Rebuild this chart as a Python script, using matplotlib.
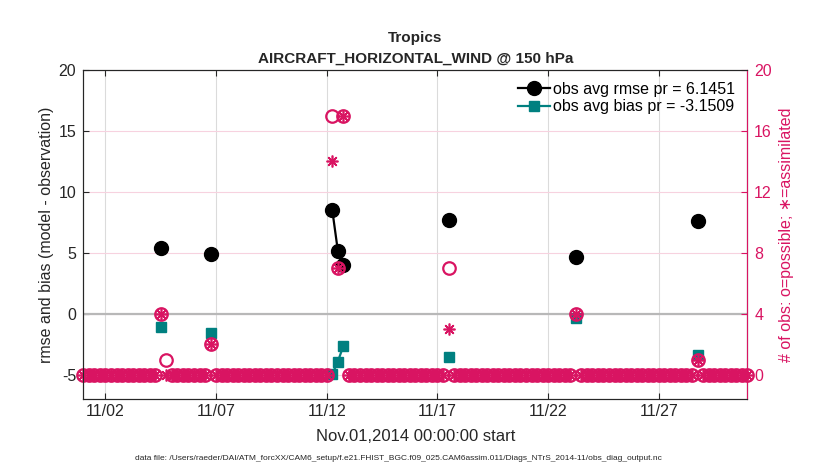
import numpy as np
import matplotlib
matplotlib.use("Agg")
import matplotlib.pyplot as plt

plt.rcParams['font.family'] = ['Liberation Sans', 'DejaVu Sans']
plt.rcParams['axes.unicode_minus'] = False

# 6-hourly bins (days since Nov.01,2014 00Z) that had any observations
obs_days = [3.5, 3.75, 5.75, 11.25, 11.5, 11.75, 16.5, 22.25, 27.75]
n_possible = [4, 1, 2, 17, 7, 17, 7, 4, 1]
n_assim = [4, 0, 2, 14, 7, 17, 3, 4, 1]
rmse = [5.43, np.nan, 4.94, 8.5, 5.19, 4.04, 7.74, 4.66, 7.62]
bias = [-1.05, np.nan, -1.58, -4.93, -3.91, -2.62, -3.5, -0.3, -3.36]

rmse_label = "obs avg rmse pr = 6.1451"
bias_label = "obs avg bias pr = -3.1509"

tick_days = [1, 6, 11, 16, 21, 26]
tick_labels = ['11/02', '11/07', '11/12', '11/17', '11/22', '11/27']

pink = '#d91462'
teal = '#008080'
dark = '#262626'

# every 6-hourly bin over the month; bins not listed above had no obs
days = np.arange(0, 30.001, 0.25)
idx = np.searchsorted(days, obs_days)
poss_all = np.zeros(len(days))
assim_all = np.zeros(len(days))
rmse_all = np.full(len(days), np.nan)
bias_all = np.full(len(days), np.nan)
poss_all[idx] = n_possible
assim_all[idx] = n_assim
rmse_all[idx] = rmse
bias_all[idx] = bias

fig = plt.figure(figsize=(8.3, 4.7), dpi=100)
ax1 = fig.add_axes([83.3/830, 70.7/470, 664/830, 329.3/470])
ax2 = ax1.twinx()

ax1.axhline(0, color='0.72', lw=1.6, zorder=1)
l1, = ax1.plot(days, rmse_all, 'o-', color='k', ms=10, lw=1.6, zorder=3)
l2, = ax1.plot(days, bias_all, 's-', color=teal, ms=7.5, lw=1.6, zorder=3)

ax2.plot(days, poss_all, 'o', mfc='none', mec=pink, ms=9, mew=1.6, clip_on=False)
ax2.plot(days, assim_all, marker=(8, 2, 0), ls='none', color=pink, ms=8.5, mew=1.2, clip_on=False)

ax1.set_xlim(0, 30)
ax1.set_ylim(-7, 20)
ax1.set_yticks(np.arange(-5, 21, 5))
ax2.set_ylim(-1.6, 20)
ax2.set_yticks(np.arange(0, 21, 4))
ax1.set_xticks(tick_days)
ax1.set_xticklabels(tick_labels)

ax1.grid(axis='x', color='0.86', lw=0.8)
ax1.grid(axis='y', color='#f7d2df', lw=0.8)
ax1.set_axisbelow(True)

ax1.tick_params(direction='in', top=True, right=False, length=4, labelsize=11.5,
                colors=dark, width=0.8)
ax1.tick_params(axis='y', pad=5)
ax2.tick_params(direction='in', length=4, labelsize=11.5, colors=pink, width=0.8, pad=5)
for s in ['left', 'top', 'bottom']:
    ax1.spines[s].set_color(dark)
    ax2.spines[s].set_color(dark)
    ax2.spines[s].set_linewidth(0.8)
ax2.spines['right'].set_color(pink)
ax2.spines['right'].set_linewidth(0.8)

ax1.set_ylabel('rmse and bias (model - observation)', fontsize=11.5, color=dark, labelpad=3)
ax2.set_ylabel('# of obs: o=possible; \u2217=assimilated', fontsize=11.5, color=pink, labelpad=5)
ax1.set_xlabel('Nov.01,2014 00:00:00 start', fontsize=12, color=dark, labelpad=7)

ax1.text(0.5, 1.098, 'Tropics', transform=ax1.transAxes, ha='center', va='center',
         fontsize=11, fontweight='bold', color=dark)
ax1.text(0.5, 1.034, 'AIRCRAFT_HORIZONTAL_WIND @ 150 hPa', transform=ax1.transAxes,
         ha='center', va='center', fontsize=11, fontweight='bold', color=dark)

ax2.legend([l1, l2], [rmse_label, bias_label], loc='upper right', frameon=False,
           fontsize=11.5, handlelength=2.0, handletextpad=0.2, borderaxespad=0.35,
           labelspacing=0.15)

fig.text(0.48, 0.025, 'data file: /Users/raeder/DAI/ATM_forcXX/CAM6_setup/f.e21.FHIST_BGC.f09_025.'
         'CAM6assim.011/Diags_NTrS_2014-11/obs_diag_output.nc', ha='center', va='center',
         fontsize=6, color=dark)

fig.savefig('out.png', dpi=100)
